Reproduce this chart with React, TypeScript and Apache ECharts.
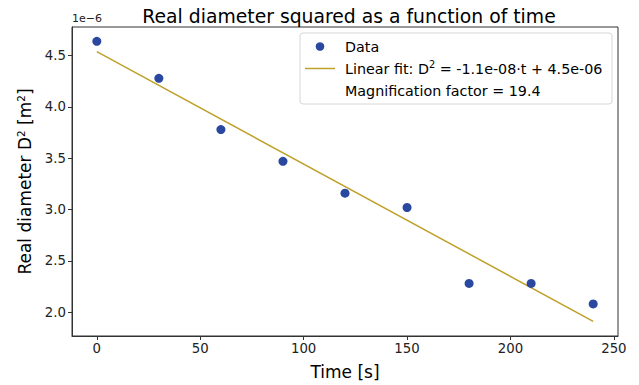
import React, { useEffect, useRef } from "react";
import * as echarts from "echarts";

const times = [0, 30, 60, 90, 120, 150, 180, 210, 240];
const diamSq = [4.64, 4.28, 3.78, 3.47, 3.16, 3.02, 2.28, 2.28, 2.08];
const fitTimes = [0, 240];
const fitValues = [4.54, 1.91];
const xTicks = [0, 50, 100, 150, 200, 250];
const yTicks = [2.0, 2.5, 3.0, 3.5, 4.0, 4.5];
const legendLabels = [
  "Data",
  "Linear fit: D{sup|2} = -1.1e-08·t + 4.5e-06",
  "Magnification factor = 19.4",
];

const FONT = "DejaVu Sans";
const DOT = "#2a48a0";
const FIT = "#bfa02a";

export default function App() {
  const ref = useRef<HTMLDivElement>(null);
  useEffect(() => {
    if (!ref.current) return;
    const chart = echarts.init(ref.current, undefined, { renderer: "svg" });
    const supRich = {
      sup: { fontFamily: FONT, fontSize: 10.5, padding: [0, 0, 9, 0], color: "#000" },
    };
    const lx = 300;
    const ly = 33;
    const rowY = [46.5, 68.5, 90.5];
    chart.setOption({
      animation: false,
      textStyle: { fontFamily: FONT },
      title: {
        text: "Real diameter squared as a function of time",
        left: 344,
        textAlign: "center",
        top: 2,
        textStyle: { fontFamily: FONT, fontSize: 18.8, fontWeight: "normal", color: "#000" },
      },
      grid: {
        left: 72,
        right: 21,
        top: 27,
        bottom: 47,
        show: true,
        borderColor: "#333",
        borderWidth: 1,
        backgroundColor: "#fff",
      },
      xAxis: {
        type: "value",
        min: -12,
        max: 252,
        name: "Time [s]",
        nameLocation: "middle",
        nameGap: 27,
        nameTextStyle: { fontFamily: FONT, fontSize: 17, color: "#000" },
        axisLine: { onZero: false, lineStyle: { color: "#333" } },
        axisTick: { show: true, length: 4, customValues: xTicks, lineStyle: { color: "#333" } },
        axisLabel: {
          customValues: xTicks,
          fontFamily: FONT,
          fontSize: 13.3,
          color: "#222",
          margin: 6,
        },
        splitLine: { show: false },
      },
      yAxis: {
        type: "value",
        min: 1.767,
        max: 4.78,
        name: "Real diameter D{sup|2} [m{sup|2}]",
        nameLocation: "middle",
        nameGap: 36,
        nameRotate: 90,
        nameTextStyle: { fontFamily: FONT, fontSize: 17, color: "#000", rich: supRich },
        axisLine: { show: true, onZero: false, lineStyle: { color: "#333" } },
        axisTick: { show: true, length: 4, customValues: yTicks, lineStyle: { color: "#333" } },
        axisLabel: {
          customValues: yTicks,
          fontFamily: FONT,
          fontSize: 13.3,
          color: "#222",
          margin: 6,
          formatter: (v: number) => v.toFixed(1),
        },
        splitLine: { show: false },
      },
      graphic: [
        {
          type: "text",
          left: 72,
          top: 13,
          style: { text: "1e−6", fontFamily: FONT, fontSize: 11, fill: "#222" },
        },
        {
          type: "rect",
          z: 10,
          shape: { x: lx, y: ly, width: 312, height: 71, r: 3 },
          style: { fill: "rgba(255,255,255,0.85)", stroke: "#d6d6d6", lineWidth: 1 },
        },
        {
          type: "circle",
          z: 11,
          shape: { cx: 320, cy: rowY[0], r: 4.3 },
          style: { fill: DOT },
        },
        {
          type: "line",
          z: 11,
          shape: { x1: 305, y1: rowY[1], x2: 335, y2: rowY[1] },
          style: { stroke: FIT, lineWidth: 1.5 },
        },
        ...legendLabels.map((t, i) => ({
          type: "text",
          z: 11,
          x: 345,
          y: rowY[i],
          style: {
            text: t,
            fontFamily: FONT,
            fontSize: 14.3,
            fill: "#000",
            verticalAlign: "middle",
            rich: { sup: { fontFamily: FONT, fontSize: 9.8, padding: [0, 0, 8, 0], fill: "#000" } },
          },
        })),
      ],
      series: [
        {
          name: "Data",
          type: "scatter",
          symbol: "circle",
          symbolSize: 9,
          itemStyle: { color: DOT, opacity: 1 },
          data: times.map((t, i) => [t, diamSq[i]]),
          z: 3,
        },
        {
          name: "Linear fit",
          type: "line",
          symbol: "none",
          showSymbol: false,
          lineStyle: { color: FIT, width: 1.5 },
          itemStyle: { color: FIT },
          data: fitTimes.map((t, i) => [t, fitValues[i]]),
          z: 2,
        },
      ],
    });
    return () => chart.dispose();
  }, []);
  return <div ref={ref} style={{ width: 639, height: 385, position: "absolute", left: 0, top: 0 }} />;
}
